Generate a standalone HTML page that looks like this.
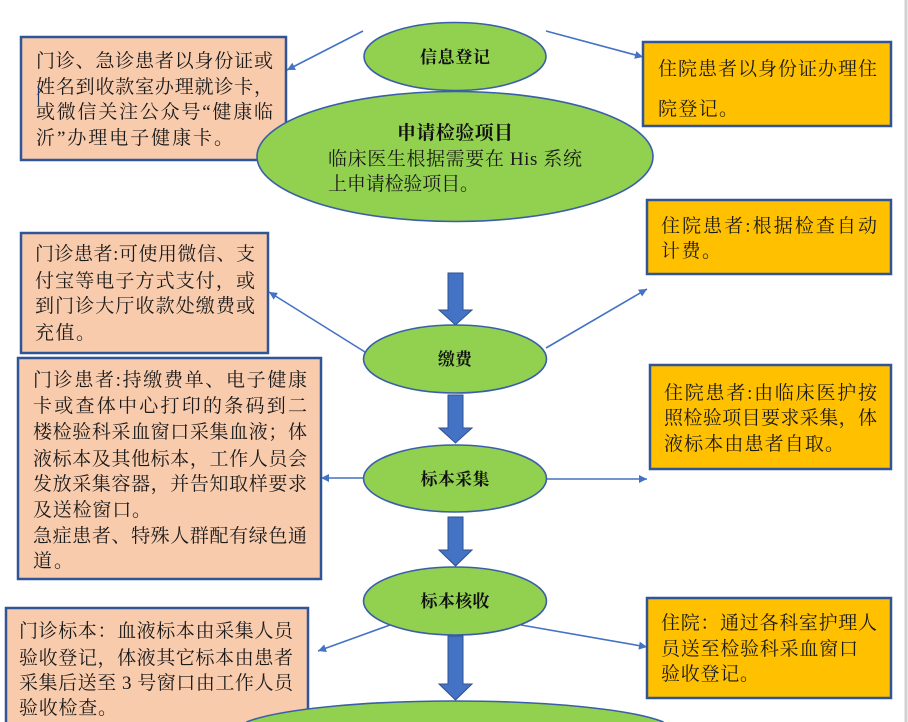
<!DOCTYPE html>
<html><head><meta charset="utf-8"><style>
html,body{margin:0;padding:0;background:#fff;width:908px;height:722px;overflow:hidden;}
svg{display:block;}
.t{font-family:"Liberation Serif","Noto Serif CJK SC","Noto Serif CJK JP",serif;font-size:19px;fill:#1a1a1a;}
.b{font-family:"Liberation Serif","Noto Serif CJK SC","Noto Serif CJK JP",serif;font-size:17px;font-weight:bold;fill:#111;}
</style></head><body>
<svg width="908" height="722" viewBox="0 0 908 722" xmlns="http://www.w3.org/2000/svg">
<defs>
<marker id="ah" viewBox="0 0 10 10" refX="10" refY="5" markerWidth="10" markerHeight="8" markerUnits="userSpaceOnUse" orient="auto">
<path d="M0,0 L10,5 L0,10 z" fill="#4472C4"/>
</marker>
</defs>
<rect x="904.5" y="0" width="3" height="722" fill="#d2d2d2"/>

<!-- connectors -->
<g stroke="#4472C4" stroke-width="1.6" fill="none" marker-end="url(#ah)">
<line x1="363" y1="31" x2="287" y2="70"/>
<line x1="546" y1="31" x2="643" y2="57"/>
<line x1="365" y1="352" x2="269" y2="292"/>
<line x1="546" y1="348" x2="647" y2="289"/>
<line x1="363" y1="478" x2="321" y2="478"/>
<line x1="546" y1="479" x2="647" y2="479"/>
<line x1="390" y1="625" x2="318" y2="651"/>
<line x1="521" y1="625" x2="647" y2="647"/>
</g>

<!-- Box 1 -->
<rect x="21" y="37" width="265" height="123" fill="#F8CBAD" stroke="#2F5597" stroke-width="2.5"/>
<text class="t" x="36" y="67" textLength="237" lengthAdjust="spacing">门诊、急诊患者以身份证或</text>
<text class="t" x="36" y="93" textLength="237" lengthAdjust="spacing">姓名到收款室办理就诊卡，</text>
<text class="t" x="36" y="118" textLength="237" lengthAdjust="spacing">或微信关注公众号“健康临</text>
<text class="t" x="36" y="144" textLength="197" lengthAdjust="spacing">沂”办理电子健康卡。</text>
<line x1="38.5" y1="86" x2="38.5" y2="106" stroke="#1F3864" stroke-width="1.2"/>

<!-- Box 2 -->
<rect x="643" y="42" width="248" height="84" fill="#FFC000" stroke="#2F5597" stroke-width="2.5"/>
<text class="t" x="658" y="75" textLength="219" lengthAdjust="spacing">住院患者以身份证办理住</text>
<text class="t" x="658" y="115" textLength="80" lengthAdjust="spacing">院登记。</text>

<!-- Box 3 -->
<rect x="647" y="200" width="244" height="74" fill="#FFC000" stroke="#2F5597" stroke-width="2.5"/>
<text class="t" x="661" y="232" textLength="216" lengthAdjust="spacing">住院患者:根据检查自动</text>
<text class="t" x="661" y="257" textLength="60" lengthAdjust="spacing">计费。</text>

<!-- Box 4 -->
<rect x="650" y="365" width="241" height="104" fill="#FFC000" stroke="#2F5597" stroke-width="2.5"/>
<text class="t" x="664" y="399" textLength="213" lengthAdjust="spacing">住院患者:由临床医护按</text>
<text class="t" x="664" y="424" textLength="213" lengthAdjust="spacing">照检验项目要求采集，体</text>
<text class="t" x="664" y="450" textLength="180" lengthAdjust="spacing">液标本由患者自取。</text>

<!-- Box 5 -->
<rect x="21" y="233" width="247" height="120" fill="#F8CBAD" stroke="#2F5597" stroke-width="2.5"/>
<text class="t" x="35" y="260" textLength="220" lengthAdjust="spacing">门诊患者:可使用微信、支</text>
<text class="t" x="35" y="287" textLength="220" lengthAdjust="spacing">付宝等电子方式支付，或</text>
<text class="t" x="35" y="312" textLength="220" lengthAdjust="spacing">到门诊大厅收款处缴费或</text>
<text class="t" x="35" y="339" textLength="60" lengthAdjust="spacing">充值。</text>

<!-- Box 6 -->
<rect x="18" y="358" width="303" height="221" fill="#F8CBAD" stroke="#2F5597" stroke-width="2.5"/>
<text class="t" x="33" y="386" textLength="274" lengthAdjust="spacing">门诊患者:持缴费单、电子健康</text>
<text class="t" x="33" y="412" textLength="274" lengthAdjust="spacing">卡或查体中心打印的条码到二</text>
<text class="t" x="33" y="438" textLength="274" lengthAdjust="spacing">楼检验科采血窗口采集血液；体</text>
<text class="t" x="33" y="465" textLength="274" lengthAdjust="spacing">液标本及其他标本，工作人员会</text>
<text class="t" x="33" y="490" textLength="274" lengthAdjust="spacing">发放采集容器，并告知取样要求</text>
<text class="t" x="33" y="516" textLength="118" lengthAdjust="spacing">及送检窗口。</text>
<text class="t" x="33" y="542" textLength="274" lengthAdjust="spacing">急症患者、特殊人群配有绿色通</text>
<text class="t" x="33" y="567" textLength="40" lengthAdjust="spacing">道。</text>

<!-- Box 7 (bottom edge outside frame) -->
<path d="M6,722 V608 H308 V722 Z" fill="#F8CBAD"/>
<path d="M6,722 V608 H308 V722" fill="none" stroke="#2F5597" stroke-width="2.5"/>
<text class="t" x="19" y="637" textLength="274" lengthAdjust="spacing">门诊标本：血液标本由采集人员</text>
<text class="t" x="19" y="664" textLength="274" lengthAdjust="spacing">验收登记，体液其它标本由患者</text>
<text class="t" x="19" y="689" textLength="274" lengthAdjust="spacing">采集后送至 3 号窗口由工作人员</text>
<text class="t" x="19" y="714" textLength="98" lengthAdjust="spacing">验收检查。</text>

<!-- Box 8 -->
<rect x="647" y="598" width="244" height="100" fill="#FFC000" stroke="#2F5597" stroke-width="2.5"/>
<text class="t" x="661" y="629" textLength="216" lengthAdjust="spacing">住院：通过各科室护理人</text>
<text class="t" x="661" y="655" textLength="197" lengthAdjust="spacing">员送至检验科采血窗口</text>
<text class="t" x="661" y="680" textLength="98" lengthAdjust="spacing">验收登记。</text>

<!-- block arrows -->
<g fill="#4472C4" stroke="#2F528F" stroke-width="1">
<path d="M448,273 H463 V310 H472 L455.5,325 L439,310 H448 Z"/>
<path d="M448,395 H463 V428 H472 L455.5,443 L439,428 H448 Z"/>
<path d="M448,517 H463 V550 H472 L455.5,566 L439,550 H448 Z"/>
<path d="M448,636 H463 V684 H472 L455.5,700 L439,684 H448 Z"/>
</g>

<!-- ellipses -->
<g fill="#92D050" stroke="#3A5FA8" stroke-width="1.6">
<ellipse cx="455" cy="56.5" rx="91" ry="34"/>
<ellipse cx="455" cy="156.5" rx="198" ry="65"/>
<ellipse cx="455" cy="359" rx="91.5" ry="34"/>
<ellipse cx="455" cy="478.5" rx="91.5" ry="33.5"/>
<ellipse cx="455" cy="601" rx="91.5" ry="34"/>
</g>
<!-- bottom partial ellipse (clipped at frame) -->
<path d="M246.5,722 A222,32 0 0 1 663.5,722 Z" fill="#92D050"/>
<path d="M246.5,722 A222,32 0 0 1 663.5,722" fill="none" stroke="#3A5FA8" stroke-width="1.6"/>

<text class="b" x="455" y="63" text-anchor="middle" textLength="70" lengthAdjust="spacing">信息登记</text>
<text class="b" x="455" y="139" text-anchor="middle" style="font-size:19px" textLength="116" lengthAdjust="spacing">申请检验项目</text>
<text class="t" x="328" y="165" textLength="254" lengthAdjust="spacing">临床医生根据需要在 His 系统</text>
<text class="t" x="328" y="190" textLength="151" lengthAdjust="spacing">上申请检验项目。</text>
<text class="b" x="455" y="365" text-anchor="middle" textLength="34" lengthAdjust="spacing">缴费</text>
<text class="b" x="455" y="485" text-anchor="middle" textLength="69" lengthAdjust="spacing">标本采集</text>
<text class="b" x="455" y="607" text-anchor="middle" textLength="69" lengthAdjust="spacing">标本核收</text>
</svg>
</body></html>
